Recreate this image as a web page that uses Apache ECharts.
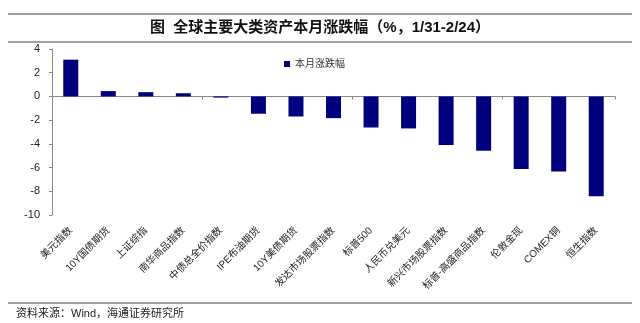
<!DOCTYPE html>
<html><head><meta charset="utf-8">
<script src="https://cdn.jsdelivr.net/npm/echarts@6/dist/echarts.min.js"></script>
<style>html,body{margin:0;padding:0;background:#fff}#c{width:640px;height:323px}</style>
</head><body><div id="c"></div>
<script>
const categories = ["美元指数","10Y国债期货","上证综指","南华商品指数","中债总全价指数","IPE布油期货","10Y美债期货","发达市场股票指数","标普500","人民币兑美元","新兴市场股票指数","标普-高盛商品指数","伦敦金现","COMEX铜","恒生指数"];
const values = [3.1, 0.45, 0.36, 0.27, -0.1, -1.46, -1.69, -1.83, -2.62, -2.7, -4.1, -4.58, -6.13, -6.33, -8.41];
const seriesName = "本月涨跌幅";
const yTicks = {min: -10, max: 4, interval: 2};
const titleText = "图  全球主要大类资产本月涨跌幅（%，1/31-2/24）";
const sourceText = "资料来源：Wind，海通证券研究所";

const cjk = '"Liberation Sans", "Noto Sans CJK SC", sans-serif';
const chart = echarts.init(document.getElementById('c'));
chart.setOption({
  animation: false,
  backgroundColor: '#fff',
  grid: {left: 52, right: 25, top: 49, bottom: 108, containLabel: false},
  legend: {
    data: [seriesName], left: 279, top: 54, itemWidth: 6, itemHeight: 6, itemGap: 4,
    icon: 'rect', textStyle: {fontFamily: cjk, fontSize: 10, color: '#333'}
  },
  xAxis: [
    {type: 'category', data: categories, position: 'bottom',
     axisLine: {show: false, onZero: false}, axisTick: {show: false},
     axisLabel: {rotate: 45, interval: 0, margin: 14, fontFamily: cjk, fontSize: 10, color: '#222'}},
    {type: 'category', data: categories, position: 'bottom',
     axisLine: {show: true, onZero: true, lineStyle: {color: '#888', width: 1}},
     axisTick: {show: true, length: 3, lineStyle: {color: '#888'}},
     axisLabel: {show: false}}
  ],
  yAxis: {type: 'value', min: yTicks.min, max: yTicks.max, interval: yTicks.interval,
    axisLine: {show: true, lineStyle: {color: '#888'}},
    axisTick: {show: true, length: 3, inside: false, lineStyle: {color: '#888'}},
    splitLine: {show: false},
    axisLabel: {margin: 12, fontFamily: '"Liberation Sans", sans-serif', fontSize: 11, color: '#222'}},
  series: [{name: seriesName, type: 'bar', xAxisIndex: 0, data: values, barWidth: 15,
    itemStyle: {color: '#00007F'}}],
  graphic: [
    {type: 'line', shape: {x1: 8, y1: 14, x2: 632, y2: 14}, style: {stroke: '#444', lineWidth: 1}},
    {type: 'line', shape: {x1: 8, y1: 42, x2: 632, y2: 42}, style: {stroke: '#444', lineWidth: 1}},
    {type: 'line', shape: {x1: 8, y1: 303, x2: 632, y2: 303}, style: {stroke: '#444', lineWidth: 1}},
    {type: 'text', left: 'center', top: 20, style: {text: titleText, font: 'bold 15px "Liberation Sans", "Noto Sans CJK SC", sans-serif', fill: '#111'}},
    {type: 'text', left: 16, top: 308, style: {text: sourceText, font: '11px "Liberation Sans", "Noto Sans CJK SC", sans-serif', fill: '#222'}}
  ]
});
</script></body></html>
